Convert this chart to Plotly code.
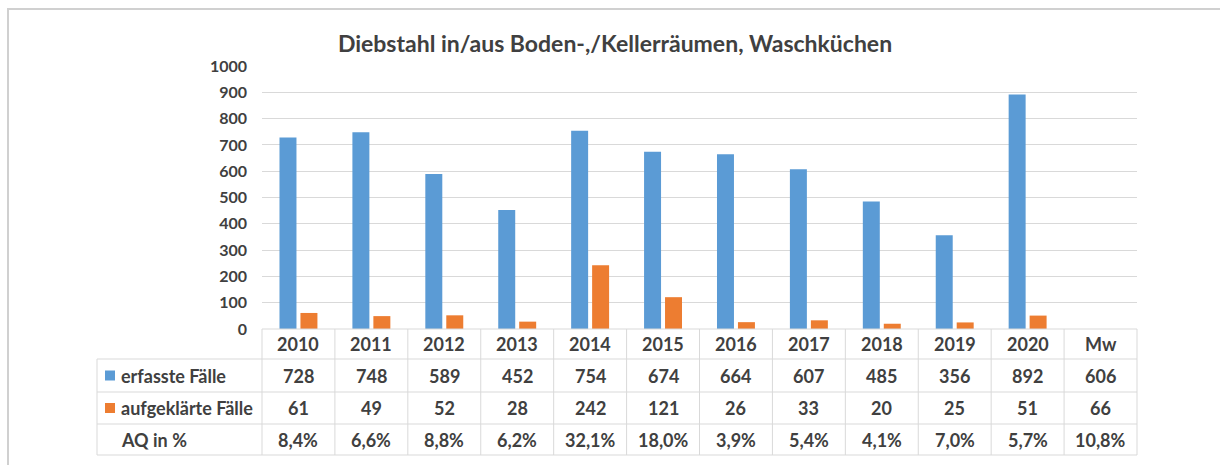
import plotly.graph_objects as go

# ---- data ----
categories = ["2010", "2011", "2012", "2013", "2014", "2015", "2016", "2017", "2018", "2019", "2020", "Mw"]
erfasste = [728, 748, 589, 452, 754, 674, 664, 607, 485, 356, 892, 606]
aufgeklaerte = [61, 49, 52, 28, 242, 121, 26, 33, 20, 25, 51, 66]
aq_text = ["8,4%", "6,6%", "8,8%", "6,2%", "32,1%", "18,0%", "3,9%", "5,4%", "4,1%", "7,0%", "5,7%", "10,8%"]
bar_categories = categories[:-1]  # Mw (mean) is shown only in the table
series_names = ["erfasste Fälle", "aufgeklärte Fälle", "AQ in %"]
title_text = "Diebstahl in/aus Boden-,/Kellerräumen, Waschküchen"
y_ticks = [0, 100, 200, 300, 400, 500, 600, 700, 800, 900, 1000]

# ---- style / layout geometry (pixels) ----
W, H = 1220, 465
BLUE = "#5B9BD5"
ORANGE = "#ED7D31"
TXT = "#404040"
GRID = "#D9D9D9"
FONT = "Lato"
PLOT_L, PLOT_R, PLOT_T, PLOT_B = 262, 1137, 66, 329
TBL_L = 97
ROW_EDGES = [329, 359, 392, 424, 455]  # header row + 3 data rows


def px_x(p):
    return p / W


def px_y(p):
    return 1 - p / H


n = len(categories)
fig = go.Figure()
fig.add_trace(go.Bar(x=bar_categories, y=erfasste[:-1], name=series_names[0],
                     marker=dict(color=BLUE, line=dict(width=0))))
fig.add_trace(go.Bar(x=bar_categories, y=aufgeklaerte[:-1], name=series_names[1],
                     marker=dict(color=ORANGE, line=dict(width=0))))

shapes = []
annotations = []
tfont = dict(family=FONT, size=18, color=TXT, weight="bold")

# table horizontal lines
for k, yy in enumerate(ROW_EDGES):
    x0 = 0 if k == 0 else -(PLOT_L - TBL_L) / (PLOT_R - PLOT_L)
    shapes.append(dict(type="line", xref="x domain", yref="paper", x0=x0, x1=1,
                       y0=px_y(yy), y1=px_y(yy), line=dict(color=GRID, width=1)))
# table vertical lines: column boundaries of the category axis
for b in range(n + 1):
    shapes.append(dict(type="line", xref="x domain", yref="paper",
                       x0=b / n, x1=b / n,
                       y0=px_y(ROW_EDGES[0]), y1=px_y(ROW_EDGES[-1]),
                       line=dict(color=GRID, width=1)))
shapes.append(dict(type="line", xref="paper", yref="paper", x0=px_x(TBL_L), x1=px_x(TBL_L),
                   y0=px_y(ROW_EDGES[1]), y1=px_y(ROW_EDGES[-1]), line=dict(color=GRID, width=1)))

row_centers = [(ROW_EDGES[i] + ROW_EDGES[i + 1]) / 2 for i in range(4)]

# header row (categories) and data rows, placed on the category axis by index
rows = [categories,
        [str(v) for v in erfasste],
        [str(v) for v in aufgeklaerte],
        aq_text]
for r, vals in enumerate(rows):
    for c, txt in enumerate(vals):
        annotations.append(dict(x=c, xref="x", y=px_y(row_centers[r]), yref="paper",
                                text=txt, showarrow=False, xanchor="center", yanchor="middle",
                                font=tfont))

# row labels with legend keys
key_colors = [BLUE, ORANGE, None]
for r, name in enumerate(series_names):
    yc = row_centers[r + 1]
    annotations.append(dict(x=px_x(119), xref="paper", y=px_y(yc), yref="paper", text=name,
                            showarrow=False, xanchor="left", yanchor="middle", font=tfont))
    if key_colors[r]:
        shapes.append(dict(type="rect", xref="paper", yref="paper",
                           x0=px_x(105), x1=px_x(115), y0=px_y(yc + 5), y1=px_y(yc - 5),
                           fillcolor=key_colors[r], line=dict(width=0)))

# chart frame
shapes.append(dict(type="rect", xref="paper", yref="paper",
                   x0=px_x(8), x1=1.05, y0=-0.05, y1=px_y(9),
                   line=dict(color="#D0D0D0", width=2), fillcolor="rgba(0,0,0,0)",
                   layer="below"))

fig.update_layout(
    width=W, height=H,
    autosize=False,
    margin=dict(l=0, r=0, t=0, b=0, pad=0, autoexpand=False),
    paper_bgcolor="white", plot_bgcolor="white",
    showlegend=False,
    barmode="group",
    bargap=0.425,
    bargroupgap=0.19,
    title=dict(text=f"<b>{title_text}</b>", x=px_x(615), xanchor="center",
               y=px_y(44), yanchor="middle", automargin=False,
               font=dict(family=FONT, size=23, color=TXT)),
    xaxis=dict(domain=[px_x(PLOT_L), px_x(PLOT_R)], type="category",
               categoryorder="array", categoryarray=categories, automargin=False,
               range=[-0.5, n - 0.5], showticklabels=False, showgrid=False,
               zeroline=False, showline=False, ticks="", fixedrange=True),
    yaxis=dict(domain=[px_y(PLOT_B), px_y(PLOT_T)], range=[0, 1000], tickvals=y_ticks,
               automargin=False,
               showgrid=True, gridcolor=GRID, gridwidth=1, zeroline=False, showline=False,
               ticks="", ticklabelstandoff=14, fixedrange=True,
               tickfont=dict(family=FONT, size=16, color=TXT, weight="bold")),
    shapes=shapes,
    annotations=annotations,
)

fig.write_html("out.html", config={"displayModeBar": False, "responsive": False},
               post_script="document.body.style.margin='0';document.body.style.overflow='hidden';")
